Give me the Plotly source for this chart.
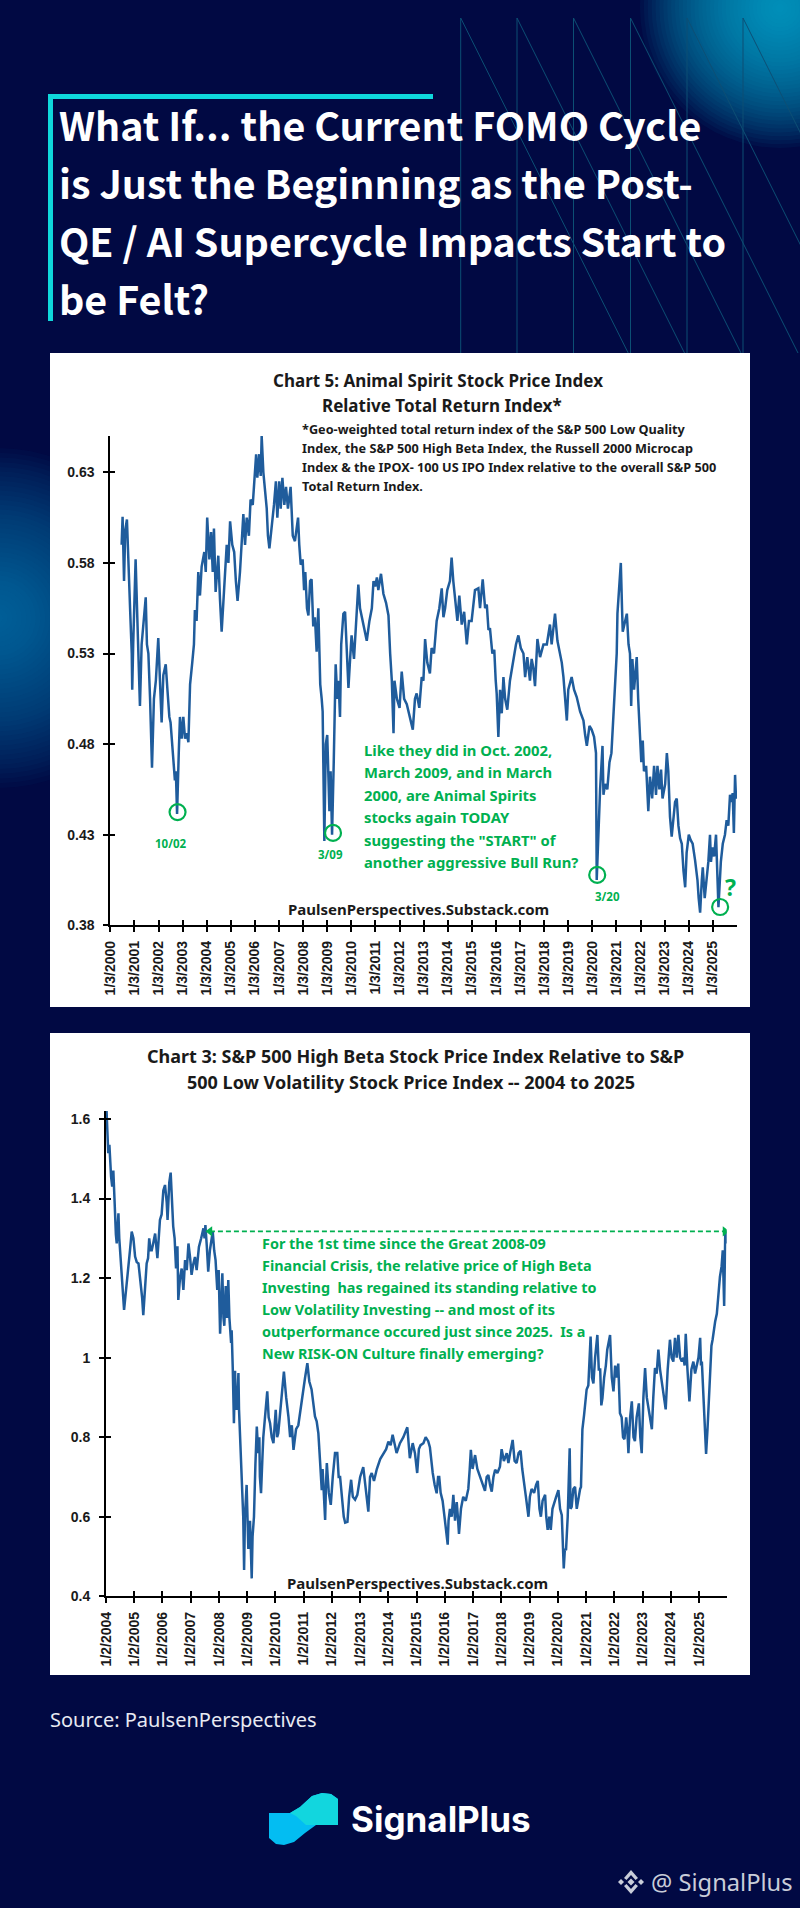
import plotly.graph_objects as go

W, H = 800, 1908

# ---------- data: years since first tick, index values ----------
animal_t = [
0.47,0.51,0.57,0.62,0.69,0.75,0.82,0.89,0.91,0.95,
1.00,1.05,1.12,1.18,1.23,1.30,1.37,1.47,1.52,1.58,
1.65,1.73,1.81,1.89,1.99,2.06,2.13,2.20,2.30,2.37,
2.45,2.50,2.61,2.68,2.72,2.77,2.84,2.89,2.96,3.03,
3.10,3.17,3.24,3.31,3.40,3.47,3.51,3.58,3.65,3.72,
3.79,3.90,3.96,4.02,4.11,4.18,4.25,4.30,4.37,4.43,
4.48,4.55,4.62,4.72,4.83,4.90,4.97,5.06,5.14,5.21,
5.28,5.38,5.45,5.52,5.59,5.66,5.75,5.82,5.91,5.98,
6.05,6.10,6.18,6.24,6.28,6.35,6.42,6.49,6.54,6.60,
6.68,6.73,6.79,6.87,6.93,7.01,7.07,7.14,7.22,7.29,
7.37,7.48,7.57,7.66,7.73,7.79,7.84,7.90,7.98,8.04,
8.09,8.16,8.22,8.29,8.35,8.42,8.49,8.56,8.63,8.67,
8.71,8.77,8.81,8.88,8.94,9.00,9.05,9.09,9.14,9.20,
9.27,9.32,9.35,9.42,9.47,9.53,9.58,9.67,9.74,9.80,
9.88,9.94,10.01,10.11,10.19,10.29,10.36,10.43,10.53,10.64,
10.75,10.85,10.92,10.99,11.06,11.12,11.23,11.33,11.44,11.54,
11.61,11.68,11.75,11.79,11.89,12.00,12.09,12.19,12.30,12.43,
12.55,12.64,12.71,12.82,12.92,12.99,13.06,13.15,13.26,13.33,
13.43,13.54,13.65,13.75,13.82,13.89,13.98,14.09,14.16,14.23,
14.30,14.40,14.48,14.58,14.68,14.79,14.88,14.99,15.13,15.27,
15.34,15.45,15.55,15.62,15.69,15.75,15.85,15.93,15.99,16.03,
16.10,16.17,16.24,16.31,16.38,16.47,16.58,16.72,16.83,16.93,
17.03,17.14,17.21,17.30,17.41,17.48,17.55,17.62,17.72,17.83,
17.97,18.11,18.24,18.31,18.45,18.55,18.63,18.73,18.80,18.87,
18.94,19.00,19.14,19.24,19.35,19.49,19.63,19.70,19.77,19.88,
19.97,20.07,20.15,20.18,20.25,20.32,20.42,20.46,20.53,20.62,
20.71,20.79,20.87,20.94,21.01,21.04,21.12,21.18,21.23,21.26,
21.36,21.43,21.50,21.56,21.61,21.66,21.73,21.78,21.84,21.90,
21.95,22.03,22.09,22.14,22.23,22.32,22.39,22.48,22.56,22.64,
22.70,22.78,22.85,22.91,23.02,23.09,23.15,23.22,23.29,23.36,
23.43,23.50,23.57,23.64,23.71,23.78,23.85,23.91,24.00,24.08,
24.16,24.26,24.36,24.41,24.47,24.54,24.58,24.66,24.74,24.81,
24.88,24.92,24.98,25.05,25.13,25.19,25.23,25.27,25.33,25.41,
25.50,25.57,25.64,25.71,25.78,25.82,25.87,25.92,25.96,25.99]
animal_v = [
.590,.6055,.570,.598,.604,.585,.555,.530,.510,.535,
.555,.582,.550,.525,.501,.535,.548,.561,.535,.530,
.505,.467,.505,.515,.5385,.515,.492,.518,.524,.510,
.495,.492,.471,.460,.465,.4415,.475,.495,.483,.495,
.483,.486,.481,.513,.525,.535,.554,.548,.575,.562,
.578,.586,.575,.605,.582,.597,.575,.599,.564,.575,
.584,.560,.542,.565,.590,.580,.603,.590,.586,.570,
.559,.575,.590,.607,.590,.605,.595,.615,.612,.625,
.640,.627,.640,.628,.650,.630,.621,.610,.595,.588,
.598,.603,.612,.625,.605,.625,.610,.627,.612,.622,
.610,.622,.595,.592,.600,.605,.590,.579,.582,.565,
.575,.555,.551,.570,.571,.545,.550,.531,.555,.530,
.513,.505,.498,.4265,.480,.485,.455,.443,.465,.430,
.470,.500,.524,.505,.515,.495,.535,.552,.553,.535,
.511,.525,.540,.527,.549,.568,.555,.550,.545,.537,
.548,.555,.570,.567,.572,.565,.574,.563,.558,.551,
.530,.515,.486,.515,.505,.500,.520,.505,.502,.495,
.488,.505,.508,.500,.517,.515,.538,.525,.519,.533,
.530,.548,.555,.566,.550,.555,.565,.570,.583,.570,
.562,.548,.562,.546,.553,.535,.548,.548,.565,.566,
.555,.571,.555,.557,.543,.544,.530,.532,.515,.508,
.484,.510,.497,.517,.505,.499,.515,.527,.535,.540,
.533,.530,.517,.528,.515,.527,.522,.512,.538,.528,
.535,.535,.546,.535,.552,.537,.532,.525,.517,.505,
.493,.510,.517,.510,.506,.498,.493,.485,.479,.490,
.488,.484,.475,.405,.435,.455,.479,.452,.458,.455,
.470,.475,.495,.515,.530,.552,.566,.580,.555,.542,
.548,.552,.535,.530,.501,.527,.510,.520,.528,.505,
.490,.470,.482,.465,.468,.443,.462,.450,.468,.452,
.468,.455,.466,.450,.458,.475,.465,.440,.429,.438,
.448,.450,.435,.428,.425,.410,.401,.420,.430,.427,
.425,.416,.405,.395,.387,.405,.412,.395,.405,.415,
.430,.415,.423,.418,.430,.410,.390,.400,.415,.425,
.430,.438,.435,.452,.448,.453,.431,.463,.450,.452]

beta_t = [
.02,.05,.08,.12,.14,.18,.22,.26,.30,.32,
.35,.38,.44,.47,.52,.55,.59,.64,.71,.79,
.85,.91,.97,1.03,1.09,1.15,1.23,1.28,1.32,1.38,
1.44,1.49,1.53,1.58,1.62,1.68,1.74,1.82,1.87,1.91,
1.97,2.03,2.09,2.15,2.18,2.24,2.29,2.34,2.38,2.43,
2.48,2.53,2.56,2.62,2.68,2.74,2.80,2.86,2.92,2.98,
3.03,3.09,3.15,3.21,3.29,3.37,3.45,3.49,3.52,3.57,
3.62,3.68,3.78,3.83,3.88,3.94,3.99,4.04,4.08,4.12,
4.16,4.19,4.24,4.29,4.33,4.37,4.43,4.45,4.49,4.51,
4.53,4.57,4.59,4.63,4.69,4.71,4.75,4.81,4.84,4.86,
4.89,4.92,4.98,5.02,5.04,5.10,5.14,5.16,5.19,5.24,
5.29,5.34,5.39,5.43,5.45,5.49,5.54,5.57,5.63,5.71,
5.76,5.81,5.87,5.93,6.01,6.06,6.10,6.16,6.23,6.30,
6.38,6.46,6.52,6.58,6.64,6.73,6.81,6.87,6.97,7.05,
7.13,7.20,7.28,7.34,7.40,7.46,7.52,7.58,7.64,7.67,
7.72,7.76,7.79,7.82,7.89,7.96,8.03,8.11,8.19,8.24,
8.29,8.35,8.42,8.47,8.55,8.61,8.68,8.74,8.82,8.90,
9.00,9.11,9.20,9.26,9.29,9.35,9.41,9.49,9.59,9.71,
9.82,9.92,10.00,10.08,10.15,10.22,10.29,10.41,10.53,10.67,
10.73,10.76,10.86,10.94,11.02,11.08,11.14,11.24,11.32,11.41,
11.47,11.52,11.57,11.64,11.71,11.76,11.80,11.85,11.92,12.00,
12.05,12.10,12.13,12.18,12.24,12.30,12.36,12.42,12.46,12.50,
12.57,12.65,12.74,12.83,12.88,12.92,12.98,13.07,13.15,13.24,
13.34,13.42,13.48,13.54,13.60,13.66,13.72,13.78,13.86,13.95,
14.01,14.09,14.19,14.25,14.31,14.40,14.47,14.54,14.61,14.68,
14.74,14.80,14.87,14.96,15.01,15.07,15.16,15.23,15.29,15.35,
15.40,15.46,15.55,15.59,15.64,15.70,15.75,15.81,15.87,15.94,
16.02,16.08,16.14,16.17,16.21,16.25,16.29,16.35,16.38,16.42,
16.45,16.49,16.55,16.61,16.67,16.73,16.79,16.82,16.87,16.93,
16.97,17.02,17.08,17.12,17.16,17.21,17.26,17.32,17.40,17.45,
17.50,17.54,17.58,17.64,17.70,17.75,17.85,17.91,17.97,18.03,
18.08,18.14,18.20,18.26,18.31,18.36,18.42,18.46,18.50,18.56,
18.62,18.68,18.73,18.79,18.87,18.92,18.97,19.03,19.09,19.15,
19.21,19.27,19.33,19.38,19.44,19.50,19.56,19.62,19.68,19.74,
19.82,19.89,19.97,20.03,20.09,20.15,20.21,20.27,20.33,20.39,
20.45,20.49,20.53,20.59,20.66,20.73,20.80,20.86,20.92,20.98,
21.04,21.07,21.10,21.13,21.18,21.21,21.25,21.30,21.33,21.39,
21.44,21.48,21.52,21.57,21.63,21.69,21.74,21.80,21.84,21.89,
21.91,21.93,21.98]
beta_v = [
1.62,1.55,1.514,1.535,1.50,1.455,1.43,1.47,1.40,1.346,
1.31,1.287,1.363,1.30,1.25,1.212,1.16,1.12,1.17,1.22,
1.27,1.317,1.30,1.254,1.24,1.237,1.185,1.15,1.107,1.19,
1.237,1.25,1.30,1.27,1.27,1.29,1.312,1.25,1.31,1.346,
1.36,1.42,1.434,1.39,1.346,1.44,1.465,1.40,1.33,1.30,
1.224,1.28,1.145,1.20,1.224,1.17,1.245,1.22,1.287,1.25,
1.208,1.235,1.253,1.22,1.278,1.30,1.325,1.30,1.333,1.28,
1.216,1.27,1.317,1.27,1.245,1.17,1.22,1.06,1.15,1.212,
1.10,1.08,1.18,1.10,1.195,1.10,1.037,1.069,.97,.90,
.835,.967,.88,.869,.961,.87,.80,.718,.65,.60,
.466,.60,.68,.56,.519,.59,.50,.445,.55,.60,
.73,.827,.76,.80,.70,.659,.75,.80,.85,.915,
.85,.835,.80,.785,.869,.80,.81,.86,.92,.965,
.90,.852,.80,.83,.768,.82,.83,.86,.92,.95,
.986,.94,.92,.88,.852,.84,.81,.74,.667,.72,
.65,.592,.68,.735,.66,.63,.70,.76,.76,.70,
.70,.66,.60,.585,.587,.65,.693,.65,.643,.655,
.70,.725,.67,.63,.613,.70,.71,.69,.72,.745,
.76,.77,.789,.78,.806,.78,.76,.785,.80,.825,
.77,.747,.785,.76,.71,.77,.78,.785,.80,.79,
.775,.74,.71,.68,.659,.70,.70,.66,.64,.592,
.56,.53,.59,.62,.60,.655,.59,.637,.60,.557,
.62,.65,.64,.67,.72,.768,.72,.755,.72,.70,
.68,.665,.70,.705,.68,.663,.70,.718,.71,.726,
.77,.74,.76,.735,.76,.793,.74,.735,.76,.766,
.72,.68,.65,.60,.65,.67,.66,.68,.69,.62,
.60,.64,.655,.60,.567,.60,.567,.62,.637,.65,
.667,.62,.604,.55,.47,.52,.516,.60,.70,.772,
.62,.625,.67,.675,.62,.65,.67,.675,.82,.856,
.88,.92,.93,.98,1.053,.95,.935,1.00,1.057,.97,
.97,.88,.898,.95,.98,1.02,1.057,.95,.915,.98,
.95,.985,.86,.85,.80,.795,.85,.82,.76,.85,
.89,.80,.79,.85,.885,.80,.76,.90,.974,.90,
.87,.85,.82,.90,.974,.96,1.02,.97,.94,.90,
.87,.97,1.045,1.00,.99,1.05,1.00,1.057,1.00,.99,
1.00,.98,1.06,.97,.89,.97,.99,.96,.98,1.00,
1.05,.98,.99,.94,.90,.85,.758,.82,.87,.99,
1.03,1.045,1.07,1.09,1.11,1.16,1.203,1.23,1.27,1.13,
1.24,1.32,1.287]

assert len(animal_t) == len(animal_v) and len(beta_t) == len(beta_v)

animal_years = list(range(2000, 2026))
animal_labels = [f"1/3/{y}" for y in animal_years]
animal_yticks = [0.38, 0.43, 0.48, 0.53, 0.58, 0.63]
beta_years = list(range(2004, 2026))
beta_labels = [f"1/2/{y}" for y in beta_years]
beta_yticks = [0.4, 0.6, 0.8, 1.0, 1.2, 1.4, 1.6]
beta_yticklabels = ["0.4", "0.6", "0.8", "1", "1.2", "1.4", "1.6"]

low_t = [2.79, 9.24, 20.20, 25.30]
low_v = [0.4425, 0.431, 0.4078, 0.3901]
arrow_t = [3.68, 21.92]
arrow_v = [1.3175, 1.3175]

title_lines = ["What If... the Current FOMO Cycle",
               "is Just the Beginning as the Post-",
               "QE / AI Supercycle Impacts Start to",
               "be Felt?"]

# ---------- styling ----------
NAVY = "#010943"
TEAL = "#0fd8dc"
GREEN = "#00b050"
BLUE = "#1f5c9c"
BODY = "Noto Sans"
HEAD = "Noto Sans CJK SC"


def px(x):
    return x / W


def py(y):
    return 1 - y / H


def note(x, y, text, size, color, family=BODY, weight=700, anchor="left"):
    shift = -2.5 if anchor == "left" else 0
    return dict(xref="paper", yref="paper", x=px(x + shift), y=py(y), text=text, showarrow=False,
                xanchor=anchor, yanchor="middle", align="left",
                font=dict(size=size, color=color, family=family, weight=weight))


def rect(x0, y0, x1, y1, color):
    return dict(type="rect", xref="paper", yref="paper", x0=px(x0), x1=px(x1), y0=py(y0), y1=py(y1),
                fillcolor=color, line=dict(width=0), layer="below")


def path(points, color):
    d = "M" + " L".join(f"{px(a):.5f},{py(b):.5f}" for a, b in points) + " Z"
    return dict(type="path", xref="paper", yref="paper", path=d, fillcolor=color,
                line=dict(width=0), layer="below")


def glow(cx, cy, radius, rgb, steps, alpha):
    out = []
    for i in range(steps):
        r = radius * (1 - i / steps)
        out.append(dict(type="circle", xref="paper", yref="paper", x0=px(cx - r), x1=px(cx + r),
                        y0=py(cy - r), y1=py(cy + r), line=dict(width=0), layer="below",
                        fillcolor=f"rgba({rgb},{alpha})"))
    return out


shapes = []
shapes += glow(780, 8, 140, "0,175,215", 36, 0.05)
shapes += glow(-2, 618, 170, "0,140,185", 36, 0.035)

for x in [460.7, 517, 573.5, 630.5, 687, 743]:
    for (x1, y1) in [(x, 353), (x + 167.5, 353)]:
        shapes.append(dict(type="line", xref="paper", yref="paper", x0=px(x), y0=py(18), x1=px(x1), y1=py(y1),
                           line=dict(color="#0c4f74", width=1), layer="below"))

shapes.append(rect(48, 94, 433, 99, TEAL))
shapes.append(rect(48, 94, 53, 321, TEAL))
shapes.append(rect(50, 353, 750, 1007, "white"))
shapes.append(rect(50, 1033, 750, 1675, "white"))

# logo ribbon
shapes.append(path([(269, 1813), (290, 1813), (300, 1807), (312, 1796), (322, 1793), (331, 1794), (338, 1799),
                    (338, 1825), (316, 1825), (305, 1833), (294, 1842), (284, 1845), (276, 1844), (269, 1838)],
                   "#03bdf2"))
shapes.append(path([(290, 1813), (300, 1807), (312, 1796), (322, 1793), (331, 1794), (338, 1799), (338, 1825),
                    (316, 1825), (306, 1825), (296, 1816)], "#12d6de"))

# watermark icon
WM = "#c9cdd9"
cx, cy = 631, 1882
for dx, dy, r in [(-10, 0, 3), (10, 0, 3), (0, 0, 3.5)]:
    shapes.append(path([(cx + dx - r, cy + dy), (cx + dx, cy + dy - r), (cx + dx + r, cy + dy), (cx + dx, cy + dy + r)], WM))
for s in (-1, 1):
    shapes.append(path([(cx - 7, cy + s * 4), (cx, cy + s * 12), (cx + 7, cy + s * 4), (cx + 4.5, cy + s * 2),
                        (cx, cy + s * 7), (cx - 4.5, cy + s * 2)], WM))

annotations = []
for i, line in enumerate(title_lines):
    annotations.append(note(59, 123 + i * 58.3, line, 39.4, "white", HEAD, 700))

annotations += [
    note(273, 380, "Chart 5: Animal Spirit Stock Price Index", 17, "#1a1a1a"),
    note(322, 405, "Relative Total Return Index*", 17, "#1a1a1a"),
    note(302, 429, "*Geo-weighted total return index of the S&P 500 Low Quality", 12.7, "#1a1a1a"),
    note(302, 448, "Index, the S&P 500 High Beta Index, the Russell 2000 Microcap", 12.7, "#1a1a1a"),
    note(302, 467, "Index & the IPOX- 100 US IPO Index relative to the overall S&P 500", 12.7, "#1a1a1a"),
    note(302, 486, "Total Return Index.", 12.7, "#1a1a1a"),
    note(171, 843, "10/02", 11.5, GREEN, anchor="center"),
    note(330, 854, "3/09", 11.5, GREEN, anchor="center"),
    note(607, 897, "3/20", 11.5, GREEN, anchor="center"),
    note(730, 887, "?", 23, GREEN, anchor="center"),
    note(288, 909, "PaulsenPerspectives.Substack.com", 15, "#1a1a1a"),
    note(147, 1056, "Chart 3: S&P 500 High Beta Stock Price Index Relative to S&P", 18, "#1a1a1a"),
    note(187, 1082, "500 Low Volatility Stock Price Index -- 2004 to 2025", 18, "#1a1a1a"),
    note(287, 1583, "PaulsenPerspectives.Substack.com", 15, "#1a1a1a"),
    note(50, 1719, "Source: PaulsenPerspectives", 20, "#e8eaf2", BODY, 400),
    note(351, 1819, "SignalPlus", 35, "white", "Inter", 700),
    note(651, 1882, "@ SignalPlus", 23.7, WM, BODY, 400),
]
for i, line in enumerate(["Like they did in Oct. 2002,", "March 2009, and in March", "2000, are Animal Spirits",
                          "stocks again TODAY", 'suggesting the "START" of', "another aggressive Bull Run?"]):
    annotations.append(note(364, 750 + i * 22.4, line, 14.8, GREEN))
for i, line in enumerate(["For the 1st time since the Great 2008-09", "Financial Crisis, the relative price of High Beta",
                          "Investing  has regained its standing relative to", "Low Volatility Investing -- and most of its",
                          "outperformance occured just since 2025.  Is a", "New RISK-ON Culture finally emerging?"]):
    annotations.append(note(262, 1243 + i * 22, line, 14.4, GREEN))

fig = go.Figure()
fig.add_trace(go.Scatter(x=[2000 + t for t in animal_t], y=animal_v, mode="lines",
                         line=dict(color=BLUE, width=2.5), xaxis="x", yaxis="y", hoverinfo="skip"))
fig.add_trace(go.Scatter(x=[2000 + t for t in low_t], y=low_v, mode="markers",
                         marker=dict(symbol="circle-open", size=16, color=GREEN, line=dict(width=2.2, color=GREEN)),
                         xaxis="x3", yaxis="y3", hoverinfo="skip"))
fig.add_trace(go.Scatter(x=[2004 + t for t in beta_t], y=beta_v, mode="lines",
                         line=dict(color=BLUE, width=2.5), xaxis="x2", yaxis="y2", hoverinfo="skip"))
fig.add_trace(go.Scatter(x=[2004 + t for t in arrow_t], y=arrow_v, mode="lines+markers",
                         line=dict(color=GREEN, width=1.8, dash="5px,3px"),
                         marker=dict(symbol=["triangle-left", "triangle-right"], size=9, color=GREEN),
                         xaxis="x4", yaxis="y4", hoverinfo="skip"))

tick_font = dict(family="Liberation Sans", size=14, color="#1a1a1a", weight=700)
x1_dom = [px(110.3), px(737)]
y1_dom = [py(925.3), py(436.1)]
x2_dom = [px(106), px(726.7)]
y2_dom = [py(1596.3), py(1111)]
r1x, r1y = [2000, 2026], [0.38, 0.65]
r2x, r2y = [2004, 2025.98], [0.4, 1.62]


def xax(dom, rng, vals, text, anchor, **kw):
    return dict(domain=dom, range=rng, tickmode="array", tickvals=vals, ticktext=text, tickangle=-90,
                ticks="outside", ticklen=5, tickwidth=2, tickcolor="black", showline=True, linecolor="black",
                linewidth=2, showgrid=False, zeroline=False, tickfont=tick_font, anchor=anchor,
                ticklabelstandoff=3, **kw)


def yax(dom, rng, vals, text, anchor, **kw):
    return dict(domain=dom, range=rng, tickmode="array", tickvals=vals, ticktext=text,
                ticks="outside", ticklen=5, tickwidth=2, tickcolor="black", showline=True, linecolor="black",
                linewidth=2, showgrid=False, zeroline=False, tickfont=tick_font, anchor=anchor,
                ticklabelstandoff=6, **kw)


def over(dom, rng, vals, anchor, ov):
    return dict(domain=dom, range=rng, tickmode="array", tickvals=vals, ticks="inside", ticklen=5, tickwidth=2,
                tickcolor="black", showticklabels=False, showgrid=False, zeroline=False, anchor=anchor, overlaying=ov)


fig.update_layout(
    width=W, height=H, margin=dict(l=0, r=0, t=0, b=0, pad=0, autoexpand=False), autosize=False, showlegend=False,
    paper_bgcolor=NAVY, plot_bgcolor="rgba(0,0,0,0)", shapes=shapes, annotations=annotations,
    xaxis=xax(x1_dom, r1x, animal_years, animal_labels, "y"),
    yaxis=yax(y1_dom, r1y, animal_yticks, [f"{v:.2f}" for v in animal_yticks], "x"),
    xaxis2=xax(x2_dom, r2x, beta_years, beta_labels, "y2"),
    yaxis2=yax(y2_dom, r2y, beta_yticks, beta_yticklabels, "x2"),
    xaxis3=over(x1_dom, r1x, animal_years, "y3", "x"),
    yaxis3=over(y1_dom, r1y, animal_yticks, "x3", "y"),
    xaxis4=over(x2_dom, r2x, beta_years, "y4", "x2"),
    yaxis4=over(y2_dom, r2y, beta_yticks, "x4", "y2"),
)

fig.write_html("out.html", config=dict(displayModeBar=False),
               post_script="document.body.style.margin='0';document.body.style.overflow='hidden';")
